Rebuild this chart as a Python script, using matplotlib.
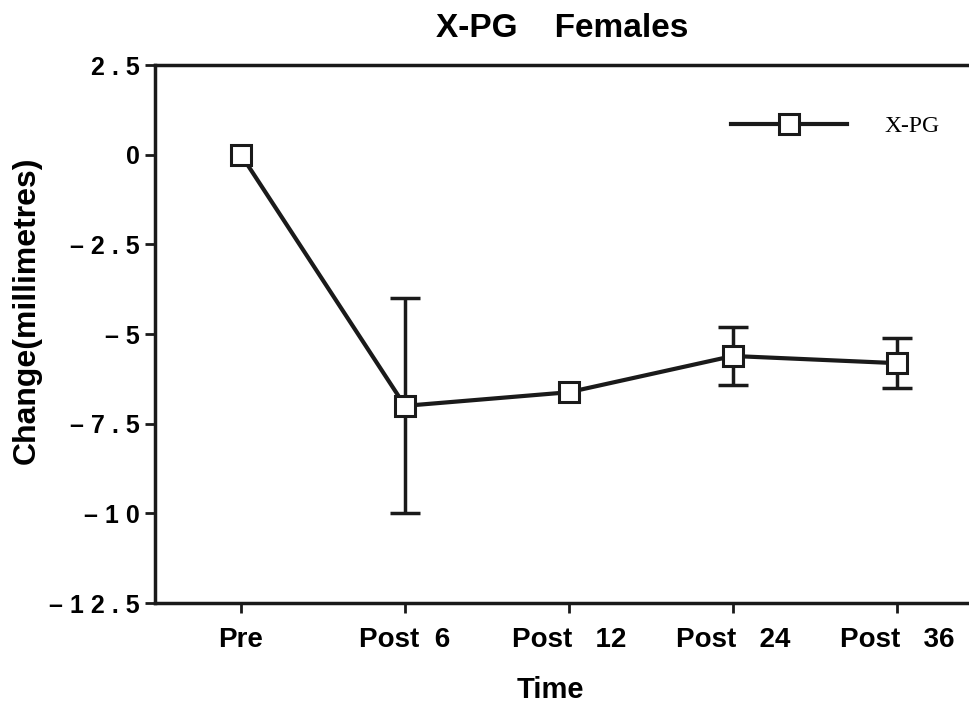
import numpy as np
import matplotlib
matplotlib.use("Agg")
import matplotlib.pyplot as plt

# data
time_labels = ['Pre', 'Post  6', 'Post   12', 'Post   24', 'Post   36']
change_mm = [0.0, -7.0, -6.62, -5.61, -5.81]
change_err = [0.0, 3.0, 0.0, 0.81, 0.7]
y_ticks = [2.5, 0, -2.5, -5, -7.5, -10, -12.5]
y_tick_labels = ['2 . 5', '0', '– 2 . 5', '– 5', '– 7 . 5', '– 1 0', '– 1 2 . 5']

plt.rcParams['font.family'] = ['Liberation Sans', 'DejaVu Sans']

fig = plt.figure(figsize=(9.69, 7.03), dpi=100)
ax = fig.add_axes([0.16, 0.142, 0.84, 0.7655])

x = np.arange(len(time_labels))
err = np.array(change_err)
has_err = err > 0

ax.errorbar(x[has_err], np.array(change_mm)[has_err], yerr=err[has_err],
            fmt='none', ecolor='#1a1a1a', elinewidth=2.5, capsize=11,
            capthick=2.5, zorder=2)
ax.plot(x, change_mm, color='#1a1a1a', linewidth=3, marker='s',
        markersize=14, markerfacecolor='white', markeredgecolor='#1a1a1a',
        markeredgewidth=2.2, label='X-PG', zorder=3)

ax.set_xlim(-0.524, 4.44)
ax.set_ylim(-12.5, 2.5)
ax.set_xticks(x)
ax.set_xticklabels(time_labels, fontsize=20, fontweight='bold')
ax.set_yticks(y_ticks)
ax.set_yticklabels(y_tick_labels, fontsize=18, fontweight='bold')
ax.tick_params(axis='both', direction='out', length=7, width=2, color='#1a1a1a')
ax.tick_params(axis='y', pad=4)
ax.tick_params(axis='x', pad=10)

for side in ['left', 'bottom', 'top']:
    ax.spines[side].set_linewidth(2.5)
    ax.spines[side].set_color('#1a1a1a')
ax.spines['right'].set_visible(False)

ax.set_title('X-PG    Females', fontsize=24, fontweight='bold', pad=20)
ax.set_xlabel('Time', fontsize=21, fontweight='bold', va='center')
ax.xaxis.set_label_coords(0.486, -0.162)
ax.set_ylabel('Change(millimetres)', fontsize=23, fontweight='bold', va='center')
ax.yaxis.set_label_coords(-0.157, 0.545)

leg = ax.legend(loc='upper right', bbox_to_anchor=(0.99, 0.945), frameon=False,
                handlelength=4.9, handletextpad=1.6,
                prop={'family': 'Liberation Serif', 'size': 17})

fig.savefig('out.png', dpi=100)
